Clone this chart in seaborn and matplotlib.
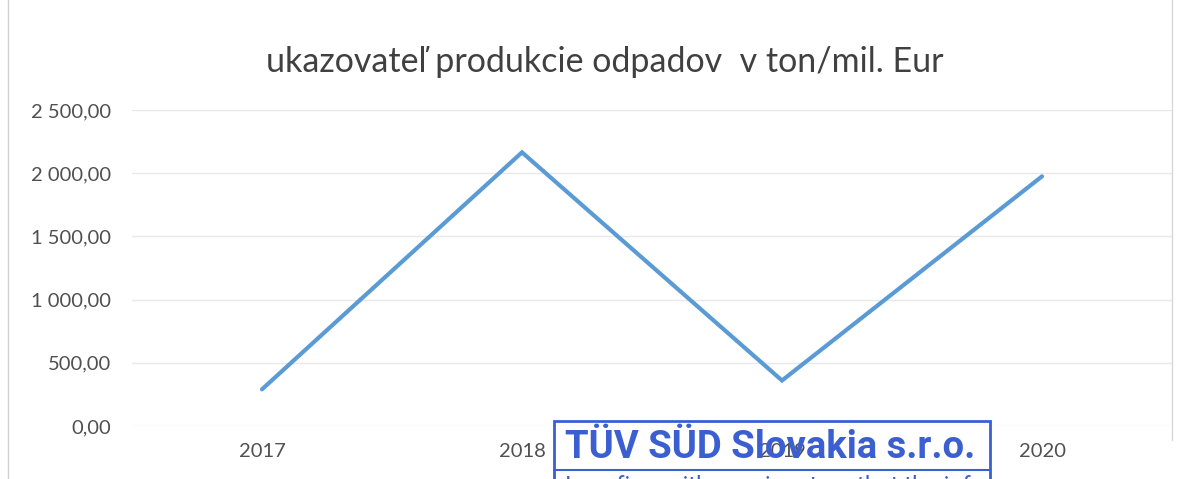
import matplotlib
matplotlib.use("Agg")
import matplotlib.pyplot as plt
import seaborn as sns
import pandas as pd
from matplotlib.patches import Rectangle
from matplotlib.ticker import FuncFormatter
from matplotlib.transforms import Bbox

years = ["2017", "2018", "2019", "2020"]
values = [290, 2165, 360, 1975]
y_ticks = [0, 500, 1000, 1500, 2000, 2500]

title = "ukazovateľ produkcie odpadov  v ton/mil. Eur"
stamp_title = "TÜV SÜD Slovakia s.r.o."
stamp_line = "I confirm with my signature that the information"

sns.set_theme(style="white")
plt.rcParams["font.family"] = ["Lato", "DejaVu Sans"]

df = pd.DataFrame({"rok": years, "hodnota": values})

W, H = 1191, 479
fig = plt.figure(figsize=(W / 100, H / 100), dpi=100)
ax = fig.add_axes([132 / W, 1 - 426 / H, 1040 / W, 316 / H])

sns.lineplot(data=df, x="rok", y="hodnota", ax=ax, color="#5B9BD5",
             linewidth=3.0, solid_joinstyle="miter", sort=False)

ax.set_xlim(-0.5, len(years) - 0.5)
ax.set_ylim(0, 2500)
ax.set_yticks(y_ticks)


def sk_fmt(v, _):
    s = f"{v:,.2f}"
    return s.replace(",", " ").replace(".", ",")


ax.yaxis.set_major_formatter(FuncFormatter(sk_fmt))
ax.grid(axis="y", color="#e8e8e8", linewidth=1.0)
ax.grid(axis="x", visible=False)
for s in ax.spines.values():
    s.set_visible(False)
ax.set_xlabel("")
ax.set_ylabel("")
ax.tick_params(axis="both", length=0, labelsize=14.5, colors="#505050")
ax.tick_params(axis="x", pad=12)
ax.tick_params(axis="y", pad=15)

fig.text(605 / W, 1 - 62 / H, title, ha="center", va="center",
         fontsize=24.5, color="#404040")

# chart frame edges
fig.add_artist(plt.Line2D([8 / W, 8 / W], [0, 1], color="#d0d0d0",
                          linewidth=1.0, transform=fig.transFigure))
fig.add_artist(plt.Line2D([1172 / W, 1172 / W], [1 - 440 / H, 1],
                          color="#d8d8d8", linewidth=1.0,
                          transform=fig.transFigure))

# company stamp
stamp_color = "#3B5FD0"
fig.add_artist(Rectangle((554 / W, -0.05), (990 - 554) / W,
                         0.05 + (H - 421) / H, transform=fig.transFigure,
                         fill=False, edgecolor=stamp_color, linewidth=2.0))
fig.add_artist(plt.Line2D([554 / W, 990 / W], [1 - 470 / H, 1 - 470 / H],
                          color=stamp_color, linewidth=1.5,
                          transform=fig.transFigure))
fig.text(770 / W, 1 - 447 / H, stamp_title, ha="center", va="center",
         fontsize=27.5, fontweight="bold", color=stamp_color,
         family=["Roboto", "DejaVu Sans"])
line_txt = fig.text(565 / W, 1 - 486 / H, stamp_line, ha="left", va="center",
                    fontsize=17, color=stamp_color,
                    family=["Roboto", "DejaVu Sans"])
line_txt.set_clip_box(Bbox.from_extents(556, 0, 988, H))
line_txt.set_clip_on(True)

fig.savefig("out.png", dpi=100, facecolor="white")
